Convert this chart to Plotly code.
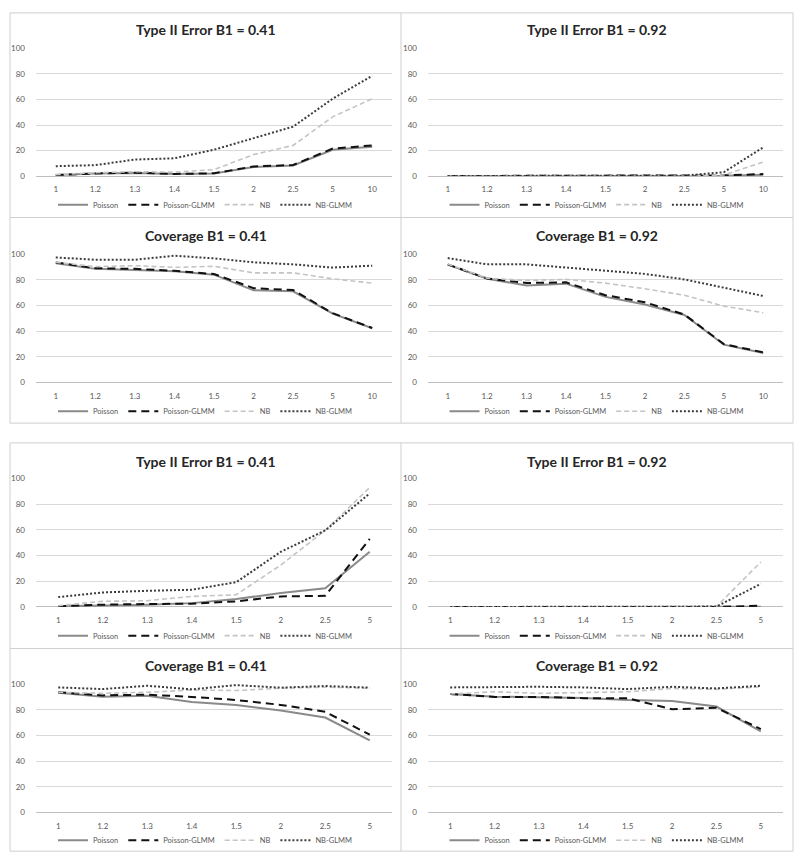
import plotly.graph_objects as go

# ---------------- data ----------------
SERIES = ["Poisson", "Poisson-GLMM", "NB", "NB-GLMM"]
cats_long = ["1", "1.2", "1.3", "1.4", "1.5", "2", "2.5", "5", "10"]
cats_short = ["1", "1.2", "1.3", "1.4", "1.5", "2", "2.5", "5"]
y_ticks = [0, 20, 40, 60, 80, 100]

titles = [
    "Type II Error B1 = 0.41", "Type II Error B1 = 0.92",
    "Coverage B1 = 0.41", "Coverage B1 = 0.92",
    "Type II Error B1 = 0.41", "Type II Error B1 = 0.92",
    "Coverage B1 = 0.41", "Coverage B1 = 0.92",
]

# Panel A: Type II Error B1 = 0.41 (upper block)
a_poisson = [0.8, 2.0, 2.3, 1.5, 2.0, 7.0, 8.2, 20.6, 23.0]
a_pglmm = [0.8, 2.0, 2.6, 1.6, 2.1, 7.5, 8.6, 21.5, 24.0]
a_nb = [1.0, 2.6, 3.4, 3.0, 5.0, 16.8, 24.0, 46.4, 60.6]
a_nbglmm = [7.7, 8.5, 12.9, 13.9, 20.6, 29.9, 38.7, 60.6, 78.6]

# Panel B: Type II Error B1 = 0.92 (upper block)
b_poisson = [0, 0, 0, 0, 0, 0, 0, 0.2, 1.0]
b_pglmm = [0, 0, 0, 0, 0, 0, 0, 0.5, 1.5]
b_nb = [0, 0, 0, 0, 0, 0, 0, 0.8, 11.0]
b_nbglmm = [0, 0, 0, 0, 0, 0, 0.3, 3.0, 22.5]

# Panel C: Coverage B1 = 0.41 (upper block)
c_poisson = [92.8, 88.5, 87.7, 86.7, 84.0, 71.8, 71.0, 53.6, 42.3]
c_pglmm = [93.5, 89.0, 88.5, 87.0, 84.5, 73.5, 72.0, 54.0, 42.5]
c_nb = [93.6, 90.3, 91.0, 89.7, 90.5, 85.4, 85.4, 80.8, 77.4]
c_nbglmm = [97.4, 95.6, 95.6, 98.7, 96.7, 93.6, 92.0, 89.5, 91.0]

# Panel D: Coverage B1 = 0.92 (upper block)
d_poisson = [91.8, 80.8, 75.6, 77.0, 66.7, 60.8, 52.6, 29.5, 23.0]
d_pglmm = [92.0, 81.0, 77.5, 78.0, 68.0, 62.5, 53.0, 30.0, 23.5]
d_nb = [92.3, 81.3, 79.5, 80.3, 77.4, 73.0, 68.0, 59.5, 54.4]
d_nbglmm = [96.9, 92.0, 92.0, 89.7, 87.2, 84.6, 80.3, 73.6, 67.4]

# Panel E: Type II Error B1 = 0.41 (lower block)
e_poisson = [0.5, 1.0, 1.8, 3.0, 6.2, 10.8, 14.6, 42.9]
e_pglmm = [0.5, 1.8, 2.3, 2.6, 4.4, 8.2, 8.7, 53.0]
e_nb = [1.0, 4.4, 4.9, 8.2, 9.5, 32.6, 59.6, 93.0]
e_nbglmm = [7.7, 11.3, 12.6, 13.4, 19.3, 42.9, 59.6, 88.4]

# Panel F: Type II Error B1 = 0.92 (lower block)
f_poisson = [0, 0, 0, 0, 0, 0, 0, 0.2]
f_pglmm = [0, 0, 0, 0, 0, 0, 0, 1.0]
f_nb = [0, 0, 0, 0, 0, 0, 0.3, 35.0]
f_nbglmm = [0, 0, 0, 0, 0, 0, 0.3, 18.0]

# Panel G: Coverage B1 = 0.41 (lower block)
g_poisson = [93.3, 90.2, 91.0, 86.0, 83.8, 79.4, 74.0, 56.2]
g_pglmm = [93.6, 91.2, 91.8, 90.0, 87.6, 83.8, 78.4, 60.6]
g_nb = [93.6, 92.8, 93.6, 95.4, 95.0, 96.8, 97.6, 96.8]
g_nbglmm = [97.4, 96.1, 98.7, 95.9, 99.2, 97.2, 98.5, 97.2]

# Panel H: Coverage B1 = 0.92 (lower block)
h_poisson = [92.3, 90.2, 89.7, 89.2, 87.6, 86.9, 82.5, 63.1]
h_pglmm = [92.3, 90.0, 90.0, 89.0, 89.0, 80.4, 81.5, 65.0]
h_nb = [92.3, 94.0, 92.8, 93.3, 94.0, 96.6, 95.9, 97.9]
h_nbglmm = [97.4, 97.9, 97.9, 97.4, 96.1, 97.9, 96.6, 98.7]

panels = [
    (cats_long, [a_poisson, a_pglmm, a_nb, a_nbglmm]),
    (cats_long, [b_poisson, b_pglmm, b_nb, b_nbglmm]),
    (cats_long, [c_poisson, c_pglmm, c_nb, c_nbglmm]),
    (cats_long, [d_poisson, d_pglmm, d_nb, d_nbglmm]),
    (cats_short, [e_poisson, e_pglmm, e_nb, e_nbglmm]),
    (cats_short, [f_poisson, f_pglmm, f_nb, f_nbglmm]),
    (cats_short, [g_poisson, g_pglmm, g_nb, g_nbglmm]),
    (cats_short, [h_poisson, h_pglmm, h_nb, h_nbglmm]),
]

# ---------------- styling / layout ----------------
W, H = 800, 867
FONT = "Lato, 'Open Sans', Arial, sans-serif"
TXT = "#595959"
styles = [
    dict(color="#8a8a8a", width=2.0, dash="solid"),
    dict(color="#111111", width=2.0, dash="8px,5px"),
    dict(color="#c4c4c4", width=1.6, dash="5px,3px"),
    dict(color="#3c3c3c", width=2.0, dash="2px,2px"),
]

def px_x(p):
    return p / W

def px_y(p):
    return 1 - p / H

col_x = [(36, 392), (428, 783)]
row_y = [(44, 173), (252, 382), (479, 609), (687, 817)]
title_y = [25, 233, 462, 668]
legend_y = [202, 411, 638, 845]
col_center = [205.5, 597]

fig = go.Figure()
layout = dict(
    width=W, height=H,
    margin=dict(l=0, r=0, t=0, b=0),
    paper_bgcolor="white", plot_bgcolor="white",
    font=dict(family=FONT, color=TXT, size=8),
    annotations=[], shapes=[],
)

for i, (cats, vals) in enumerate(panels):
    r, c = divmod(i, 2)
    n = i + 1
    xa = "x" if n == 1 else f"x{n}"
    ya = "y" if n == 1 else f"y{n}"
    leg = "legend" if n == 1 else f"legend{n}"
    for s, name in enumerate(SERIES):
        fig.add_trace(go.Scatter(
            x=cats, y=vals[s], name=name, mode="lines",
            line=styles[s], xaxis=xa, yaxis=ya, legend=leg,
            showlegend=True,
        ))
    x0, x1 = col_x[c]
    yt, yb = row_y[r]
    layout["xaxis" if n == 1 else f"xaxis{n}"] = dict(
        domain=[px_x(x0), px_x(x1)], anchor=ya,
        type="category", range=[-0.5, len(cats) - 0.5],
        showgrid=False, showline=False, zeroline=False,
        ticks="", ticklabelstandoff=7,
        tickfont=dict(size=8, color=TXT, family=FONT),
        fixedrange=True,
    )
    layout["yaxis" if n == 1 else f"yaxis{n}"] = dict(
        domain=[px_y(yb), px_y(yt)], anchor=xa,
        range=[0, 100], tickvals=y_ticks,
        showgrid=True, gridcolor="#d9d9d9", gridwidth=1,
        zeroline=True, zerolinecolor="#bfbfbf", zerolinewidth=1,
        showline=False, ticks="", ticklabelstandoff=10,
        tickfont=dict(size=8, color=TXT, family=FONT),
        fixedrange=True,
    )
    layout[leg] = dict(
        orientation="h", x=px_x(col_center[c]), xanchor="center",
        y=px_y(legend_y[r]), yanchor="middle",
        font=dict(size=7.5, color=TXT, family=FONT),
        bgcolor="rgba(0,0,0,0)", itemwidth=30,
        tracegroupgap=0,
    )
    layout["annotations"].append(dict(
        text=titles[i], xref="paper", yref="paper",
        x=px_x(col_center[c]), y=px_y(title_y[r]),
        xanchor="center", yanchor="middle", showarrow=False,
        font=dict(size=14, color="#262626", family=FONT, weight="bold"),
    ))

# panel frames (two blocks of 2x2 charts)
frame = dict(color="#cfcfcf", width=1)
for (top, mid, bot) in [(8, 215, 423), (443, 651, 856)]:
    layout["shapes"].append(dict(type="rect", xref="paper", yref="paper",
                                 x0=px_x(10), x1=px_x(793), y0=px_y(bot), y1=px_y(top),
                                 line=frame, layer="below"))
    layout["shapes"].append(dict(type="line", xref="paper", yref="paper",
                                 x0=px_x(401), x1=px_x(401), y0=px_y(bot), y1=px_y(top),
                                 line=frame, layer="below"))
    layout["shapes"].append(dict(type="line", xref="paper", yref="paper",
                                 x0=px_x(10), x1=px_x(793), y0=px_y(mid), y1=px_y(mid),
                                 line=frame, layer="below"))

fig.update_layout(**layout)
fig.write_html(
    "out.html",
    config={"displayModeBar": False},
    post_script="document.body.style.margin='0';",
)
